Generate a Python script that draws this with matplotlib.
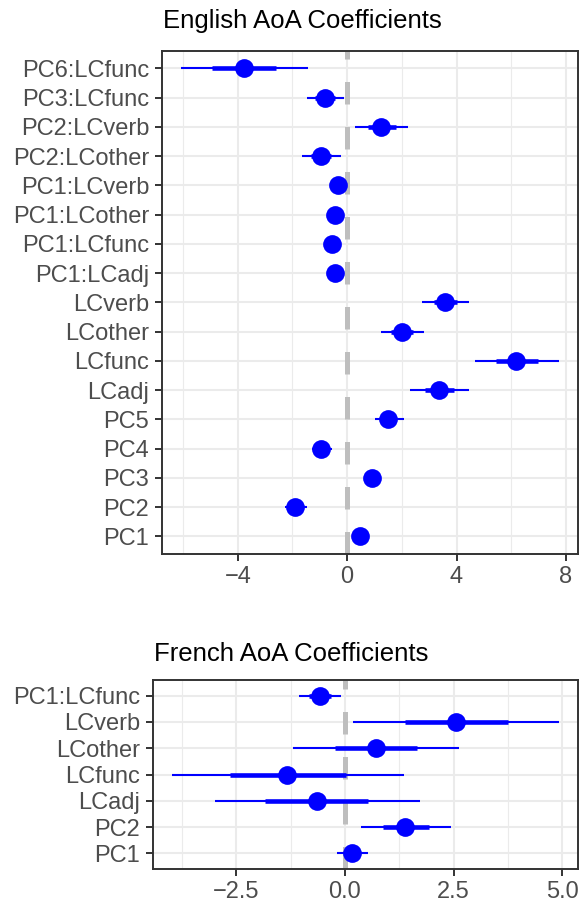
import numpy as np
import matplotlib
matplotlib.use('Agg')
import matplotlib.pyplot as plt

plt.rcParams['font.family'] = ['Liberation Sans', 'DejaVu Sans']

######## DATA (rows listed bottom to top) ######################################
engTerms = ['PC1', 'PC2', 'PC3', 'PC4', 'PC5', 'LCadj', 'LCfunc', 'LCother',
            'LCverb', 'PC1:LCadj', 'PC1:LCfunc', 'PC1:LCother', 'PC1:LCverb',
            'PC2:LCother', 'PC2:LCverb', 'PC3:LCfunc', 'PC6:LCfunc']
engEst = [0.46, -1.92, 0.89, -0.95, 1.51, 3.37, 6.19, 2.02, 3.59,
          -0.45, -0.55, -0.45, -0.35, -0.96, 1.24, -0.81, -3.78]
engLo95 = [0.30, -2.27, 0.72, -1.30, 1.00, 2.31, 4.68, 1.25, 2.75,
           -0.60, -0.70, -0.60, -0.50, -1.67, 0.29, -1.47, -6.08]
engHi95 = [0.62, -1.48, 1.06, -0.54, 2.07, 4.45, 7.75, 2.80, 4.45,
           -0.30, -0.40, -0.30, -0.20, -0.21, 2.24, -0.11, -1.43]
engLo50 = [0.38, -2.12, 0.80, -1.14, 1.24, 2.85, 5.43, 1.62, 3.16,
           -0.53, -0.63, -0.53, -0.43, -1.33, 0.77, -1.16, -4.95]
engHi50 = [0.54, -1.72, 0.98, -0.76, 1.78, 3.92, 6.98, 2.42, 4.02,
           -0.37, -0.47, -0.37, -0.27, -0.59, 1.80, -0.46, -2.60]
engTicks = [-4, 0, 4, 8]
engTickLabels = ['\u22124', '0', '4', '8']

frTerms = ['PC1', 'PC2', 'LCadj', 'LCfunc', 'LCother', 'LCverb', 'PC1:LCfunc']
frEst = [0.16, 1.38, -0.64, -1.34, 0.71, 2.55, -0.57]
frLo95 = [-0.18, 0.37, -3.00, -3.98, -1.19, 0.19, -1.05]
frHi95 = [0.53, 2.45, 1.72, 1.35, 2.62, 4.92, -0.09]
frLo50 = [-0.02, 0.88, -1.83, -2.65, -0.24, 1.38, -0.82]
frHi50 = [0.35, 1.93, 0.54, 0.02, 1.67, 3.75, -0.33]
frTicks = [-2.5, 0.0, 2.5, 5.0]
frTickLabels = ['\u22122.5', '0.0', '2.5', '5.0']
################################################################################

######## PLOT ONE COEFFICIENT PANEL ############################################
def plotCoefs(ax, terms, est, lo95, hi95, lo50, hi50, ticks, tickLabels):
    ypos = np.arange(1, len(terms) + 1)
    step = ticks[1] - ticks[0]
    minor = [t - step / 2 for t in ticks] + [ticks[-1] + step / 2]
    ax.set_xticks(ticks)
    ax.set_xticklabels(tickLabels)
    ax.set_xticks(minor, minor=True)
    ax.set_yticks(ypos)
    ax.set_yticklabels(terms)
    # ggplot-style expansion: 5% on continuous x, 0.6 on discrete y
    # (set after the ticks, set_xticks would widen the view otherwise)
    allVals = lo95 + hi95 + est
    span = max(allVals) - min(allVals)
    ax.set_xlim(min(allVals) - 0.05 * span, max(allVals) + 0.05 * span)
    ax.set_ylim(0.4, len(terms) + 0.6)
    ax.set_axisbelow(True)
    ax.grid(which='major', color='#EBEBEB', lw=1.5)
    ax.grid(which='minor', axis='x', color='#EBEBEB', lw=0.8)
    ax.axvline(0, color='#BEBEBE', lw=3.6, ls=(0, (4.5, 4.5)), zorder=2)
    ax.hlines(ypos, lo95, hi95, color='#0000FF', lw=1.5, zorder=3)
    ax.hlines(ypos, lo50, hi50, color='#0000FF', lw=3.3, zorder=3)
    ax.plot(est, ypos, 'o', color='#0000FF', ms=13.5, mew=0, zorder=4)
    for sp in ax.spines.values():
        sp.set_color('#333333')
        sp.set_linewidth(1.4)
    ax.tick_params(which='major', colors='#333333', labelcolor='#4D4D4D',
                   labelsize=17, length=4.8, width=1.4)
    ax.tick_params(axis='x', which='major', pad=3.5)
    ax.tick_params(axis='y', which='major', pad=4.5)
    ax.tick_params(which='minor', length=0)

fig = plt.figure(figsize=(5.79, 9.06), dpi=100)
axEng = fig.add_axes([162 / 579, 1 - 554 / 906, 416 / 579, 503.3 / 906])
axFr = fig.add_axes([152.7 / 579, 1 - 869 / 906, 425.3 / 579, 189 / 906])

plotCoefs(axEng, engTerms, engEst, engLo95, engHi95, engLo50, engHi50,
          engTicks, engTickLabels)
plotCoefs(axFr, frTerms, frEst, frLo95, frHi95, frLo50, frHi50,
          frTicks, frTickLabels)

fig.text(163 / 579, 1 - 28.3 / 906, 'English AoA Coefficients', fontsize=18.5,
         color='black', va='baseline', ha='left')
fig.text(154 / 579, 1 - 660.7 / 906, 'French AoA Coefficients', fontsize=18.5,
         color='black', va='baseline', ha='left')

fig.savefig('out.png', dpi=100)
